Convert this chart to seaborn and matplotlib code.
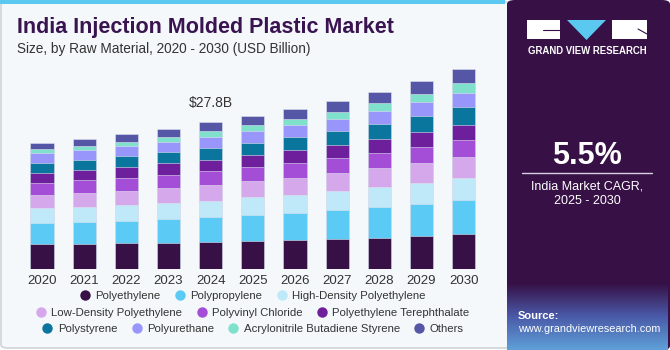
import numpy as np
import pandas as pd
import seaborn as sns
import matplotlib.pyplot as plt
from matplotlib.patches import Rectangle, FancyBboxPatch, Polygon
from matplotlib.lines import Line2D
from matplotlib.colors import LinearSegmentedColormap

years = ['2020', '2021', '2022', '2023', '2024', '2025', '2026', '2027', '2028', '2029', '2030']

# USD billion
polyethylene = [4.67, 4.80, 4.92, 4.98, 5.17, 5.36, 5.49, 5.74, 5.93, 6.18, 6.56]
polypropylene = [3.98, 4.16, 4.23, 4.54, 4.67, 4.92, 5.17, 5.49, 5.87, 6.18, 6.56]
hdpe = [2.84, 2.84, 3.03, 3.03, 3.09, 3.28, 3.41, 3.53, 3.66, 3.85, 4.04]
ldpe = [2.46, 2.52, 2.59, 2.78, 2.97, 3.03, 3.22, 3.34, 3.60, 3.85, 4.10]
pvc = [2.40, 2.46, 2.52, 2.46, 2.59, 2.65, 2.71, 2.84, 2.90, 3.03, 3.09]
pet = [1.89, 1.96, 2.02, 2.21, 2.21, 2.27, 2.46, 2.52, 2.65, 2.84, 2.90]
polystyrene = [1.89, 1.96, 2.02, 2.08, 2.27, 2.40, 2.59, 2.71, 2.90, 3.09, 3.41]
polyurethane = [1.77, 1.77, 1.89, 2.02, 2.08, 2.15, 2.15, 2.33, 2.52, 2.71, 2.78]
abs_ = [0.82, 0.82, 0.88, 0.88, 1.01, 1.14, 1.20, 1.33, 1.39, 1.45, 1.77]
others = [1.14, 1.39, 1.51, 1.58, 1.70, 1.70, 1.96, 2.08, 2.21, 2.46, 2.65]

materials = ['Polyethylene', 'Polypropylene', 'High-Density Polyethylene',
             'Low-Density Polyethylene', 'Polyvinyl Chloride', 'Polyethylene Terephthalate',
             'Polystyrene', 'Polyurethane', 'Acrylonitrile Butadiene Styrene', 'Others']
series = [polyethylene, polypropylene, hdpe, ldpe, pvc, pet, polystyrene,
          polyurethane, abs_, others]
colors = ['#371046', '#5bcbf5', '#bfe9f9', '#d5a8ec', '#a44dd6',
          '#6e1f9c', '#0b769d', '#9996fb', '#7fe0cc', '#5656a6']

df = pd.DataFrame(dict(zip(materials, series)), index=years)
cum = df.cumsum(axis=1)
totals = df.sum(axis=1)

sns.set_theme(style='white')
plt.rcParams['font.family'] = ['Liberation Sans', 'DejaVu Sans']

W, H = 670, 350
fig = plt.figure(figsize=(6.7, 3.5), dpi=100)
fig.patch.set_facecolor('white')


def fx(px):
    return px / W


def fy(py):
    return 1 - py / H


# left panel background + top strip
fig.patches.append(FancyBboxPatch((fx(1), fy(348)), fx(510), fy(2) - fy(348),
                                  boxstyle='round,pad=0,rounding_size=0.01',
                                  transform=fig.transFigure, facecolor='#f4f8fb',
                                  edgecolor='#d0d4d8', linewidth=1.2, zorder=-2))
fig.patches.append(Rectangle((0, fy(4)), fx(505), fy(0) - fy(4), transform=fig.transFigure,
                             facecolor='#5bc8f0', edgecolor='none', zorder=-1))

# right panel
fig.patches.append(FancyBboxPatch((fx(507), 0), fx(163), 1,
                                  boxstyle='round,pad=0,rounding_size=0.012',
                                  transform=fig.transFigure, facecolor='#371046',
                                  edgecolor='none', zorder=-1))
gax = fig.add_axes([fx(507), 0, fx(161), fy(283)])
gax.set_zorder(1)
grad = np.linspace(0, 1, 100)[:, None]
cmap = LinearSegmentedColormap.from_list('g', ['#371046', '#4a5aa8', '#5fa0d8'])
gax.imshow(grad, aspect='auto', cmap=cmap, extent=[0, 1, 0, 1], origin='upper')
gax.axis('off')

# logo
fig.patches.append(Rectangle((fx(527), fy(39)), fx(33), fy(20) - fy(39), transform=fig.transFigure,
                             facecolor='white', edgecolor='none', zorder=3))
fig.patches.append(Rectangle((fx(612), fy(39)), fx(35), fy(20) - fy(39), transform=fig.transFigure,
                             facecolor='white', edgecolor='none', zorder=3))
fig.patches.append(Polygon([(fx(567), fy(20)), (fx(606), fy(20)), (fx(586.5), fy(40))],
                           closed=True, transform=fig.transFigure,
                           facecolor='#5bc8f0', edgecolor='none', zorder=3))
fig.lines.append(Line2D([fx(543), fx(560)], [fy(30), fy(30)], transform=fig.transFigure,
                        color='#371046', lw=0.8, zorder=4))
fig.lines.append(Line2D([fx(638), fx(647)], [fy(29), fy(34)], transform=fig.transFigure,
                        color='#371046', lw=0.8, zorder=4))
fig.text(fx(587), fy(51), 'GRAND VIEW RESEARCH', color='white', fontsize=6.9,
         fontweight='bold', ha='center', va='center', zorder=4)

fig.text(fx(587), fy(156), '5.5%', color='white', fontsize=22, fontweight='bold',
         ha='center', va='center', zorder=4)
fig.lines.append(Line2D([fx(522), fx(652)], [fy(173), fy(173)], transform=fig.transFigure,
                        color='#d8d0e0', lw=1, zorder=4))
fig.text(fx(587), fy(186), 'India Market CAGR,', color='white', fontsize=9,
         ha='center', va='center', zorder=4)
fig.text(fx(587), fy(201), '2025 - 2030', color='white', fontsize=9,
         ha='center', va='center', zorder=4)
fig.text(fx(518), fy(316), 'Source:', color='white', fontsize=8, fontweight='bold',
         ha='left', va='center', zorder=4)
fig.text(fx(518), fy(329), 'www.grandviewresearch.com', color='white', fontsize=7.8,
         ha='left', va='center', zorder=4)

# titles
fig.text(fx(17), fy(28), 'India Injection Molded Plastic Market', color='#3a1450',
         fontsize=15.5, fontweight='heavy', ha='left', va='center')
fig.text(fx(17), fy(49), 'Size, by Raw Material, 2020 - 2030 (USD Billion)', color='#333333',
         fontsize=9.8, ha='left', va='center')

# bars
ax = fig.add_axes([fx(13.4), fy(269), fx(475.6), fy(60) - fy(269)])
ax.set_zorder(5)
ax.set_facecolor('none')
for name, col in reversed(list(zip(materials, colors))):
    sns.barplot(x=years, y=cum[name].values, color=col, width=0.55, ax=ax,
                edgecolor='#dfe3ee', linewidth=0.4, saturation=1)
ax.set_xlim(-0.68, 10.6)
ax.set_ylim(0, 39.6)
ax.set_yticks([])
ax.tick_params(axis='x', length=0, labelsize=9.5, labelcolor='#333333', pad=4)
sns.despine(ax=ax, left=True, bottom=True)
ax.set_xlabel('')
ax.set_ylabel('')

ax.annotate(f'${totals["2024"]:.1f}B', xy=(4, totals['2024']), xytext=(0, 14),
            textcoords='offset points', ha='center', va='center', fontsize=10,
            color='#333333')

# legend rows
rows = [materials[0:3], materials[3:6], materials[6:10]]
row_y = [296, 313, 329]
for row, yy in zip(rows, row_y):
    handles = [Line2D([], [], marker='o', linestyle='', markersize=7.5,
                      markerfacecolor=colors[materials.index(m)], markeredgewidth=0)
               for m in row]
    leg = fig.legend(handles, row, loc='center', bbox_to_anchor=(fx(252), fy(yy)),
                     ncol=len(row), frameon=False, fontsize=8.2, handletextpad=0.3,
                     columnspacing=1.1, handlelength=1.2, labelcolor='#333333')
    leg.set_zorder(6)

fig.savefig('out.png', dpi=100)
